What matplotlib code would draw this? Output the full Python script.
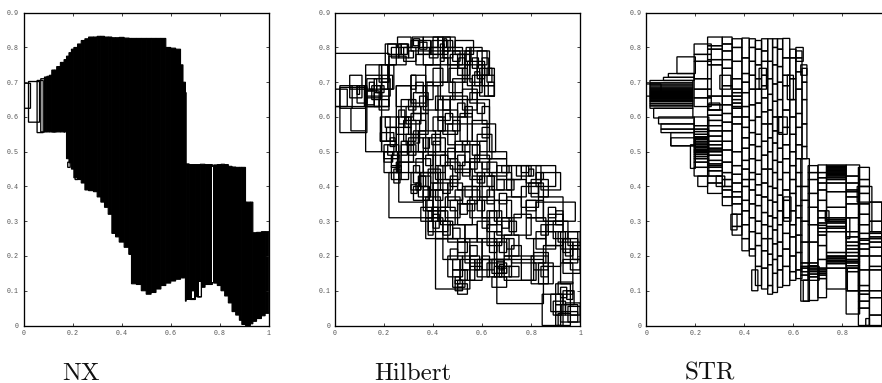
import matplotlib
matplotlib.use("Agg")
import matplotlib.pyplot as plt
from matplotlib.patches import Rectangle

W, H = 882, 383
captions = ["NX", "Hilbert", "STR"]
x_ticks = [0, 0.2, 0.4, 0.6, 0.8, 1]
x_tick_labels = ["0", "0.2", "0.4", "0.6", "0.8", "1"]
str_x_tick_labels = ["0", "0.2", "0.4", "0.6", "0.8", ""]
y_ticks = [0, 0.1, 0.2, 0.3, 0.4, 0.5, 0.6, 0.7, 0.8, 0.9]
y_tick_labels = ["0", "0.1", "0.2", "0.3", "0.4", "0.5", "0.6", "0.7", "0.8", "0.9"]

# NX: solid mass of very thin boxes, read as profile (left, right, low, high)
nx_edges = [0.085,0.095,0.105,0.115,0.125,0.135,0.15,0.165,0.175,0.185,0.195,0.205,0.22,0.235,0.25,0.265,0.285,0.30,
            0.315,0.33,0.345,0.36,0.375,0.39,0.41,0.43,0.44,0.46,0.48,0.50,0.52,0.54,0.56,0.58,0.60,0.62,0.64,
            0.65,0.66,0.663,0.675,0.70,0.72,0.74,0.77,0.775,0.79,0.805,0.82,0.835,0.85,0.865,0.88,0.89,0.905,
            0.91,0.925,0.935,0.95,0.97,0.985,1.0]
nx_low = [0.557,0.557,0.557,0.557,0.557,0.557,0.557,0.557,0.48,0.468,0.45,0.425,0.42,0.41,0.39,0.388,0.385,0.37,
          0.355,0.34,0.32,0.265,0.255,0.24,0.225,0.205,0.12,0.118,0.10,0.09,0.095,0.105,0.115,0.122,0.128,0.133,0.137,
          0.137,0.07,0.075,0.075,0.083,0.11,0.118,0.125,0.122,0.115,0.10,0.085,0.065,0.04,0.03,0.015,0.003,0.0,
          0.0,0.005,0.012,0.02,0.028,0.035]
nx_high = [0.715,0.717,0.72,0.735,0.735,0.745,0.757,0.765,0.775,0.785,0.795,0.80,0.81,0.82,0.825,0.83,0.83,0.832,
           0.832,0.83,0.83,0.828,0.828,0.829,0.827,0.826,0.826,0.826,0.826,0.826,0.826,0.826,0.826,0.80,0.798,0.795,0.75,
           0.70,0.67,0.465,0.463,0.463,0.464,0.463,0.456,0.462,0.463,0.464,0.463,0.458,0.456,0.455,0.455,0.455,0.355,
           0.355,0.355,0.267,0.268,0.27,0.27]
nx_boxes = [(0.0,0.625,0.028,0.697),(0.02,0.585,0.065,0.702),(0.055,0.555,0.08,0.705),(0.07,0.557,0.087,0.71),
            (0.118,0.557,0.13,0.73),(0.165,0.557,0.168,0.752),(0.18,0.455,0.19,0.47),(0.21,0.42,0.22,0.44),
            (0.28,0.39,0.295,0.41),(0.43,0.205,0.44,0.23),(0.68,0.075,0.70,0.10),(0.71,0.082,0.725,0.13)]
nx_white_gaps = [(0.7685,0.125,0.7725,0.456),(0.685,0.078,0.695,0.10),(0.715,0.085,0.722,0.125),(0.29,0.39,0.293,0.41),
                 (0.122,0.56,0.126,0.725),(0.1645,0.56,0.1665,0.75)]

# Hilbert: boxes (x0, y0, x1, y1), by region
hilbert_large = [(0,0.63,0.22,0.783),(0.02,0.555,0.13,0.685),(0.065,0.56,0.125,0.625),(0.125,0.5,0.19,0.75),
    (0.22,0.31,0.40,0.44),(0.26,0.355,0.36,0.50),(0.41,0.105,0.55,0.25),(0.66,0.063,0.85,0.19),
    (0.845,0,0.92,0.09),(0.69,0.13,0.81,0.20),(0.82,0.30,0.98,0.355),(0.62,0.48,0.70,0.50),
    (0.25,0.50,0.37,0.69),(0.36,0.75,0.55,0.79),(0.18,0.70,0.22,0.75),(0.64,0.11,0.70,0.14)]
hilbert_upper_left = [(0,0.63,0.05,0.68),(0.02,0.625,0.07,0.69),(0.06,0.655,0.11,0.72),(0.09,0.64,0.13,0.69),
    (0.06,0.68,0.12,0.69),(0.12,0.63,0.22,0.68),(0.125,0.655,0.19,0.72),(0.13,0.675,0.17,0.71),
    (0.16,0.66,0.225,0.71),(0.19,0.68,0.235,0.72),(0.13,0.63,0.18,0.675),(0.18,0.62,0.22,0.65),
    (0.15,0.65,0.185,0.69),(0.19,0.70,0.22,0.75),(0.215,0.68,0.24,0.75),(0.09,0.665,0.10,0.69),
    (0.185,0.53,0.24,0.555),(0.19,0.50,0.25,0.53),(0.20,0.48,0.26,0.52),(0.21,0.53,0.25,0.57),
    (0.20,0.44,0.255,0.50),(0.185,0.53,0.225,0.60),(0.205,0.57,0.26,0.60),(0.225,0.515,0.245,0.54),
    (0.13,0.635,0.16,0.66),(0.16,0.63,0.19,0.67),(0.17,0.67,0.20,0.69),(0.14,0.68,0.16,0.70),
    (0.20,0.47,0.235,0.50),(0.215,0.49,0.24,0.52),(0.23,0.455,0.265,0.49),(0.24,0.41,0.265,0.45),(0.25,0.44,0.27,0.47)]
hilbert_top = [(0.205,0.75,0.25,0.81),(0.215,0.78,0.27,0.81),(0.22,0.75,0.29,0.775),(0.255,0.80,0.31,0.83),
    (0.26,0.77,0.30,0.81),(0.28,0.76,0.33,0.80),(0.31,0.79,0.36,0.82),(0.315,0.80,0.36,0.83),(0.34,0.78,0.39,0.82),
    (0.36,0.80,0.42,0.83),(0.33,0.75,0.40,0.78),(0.40,0.78,0.44,0.83),(0.42,0.80,0.49,0.83),(0.44,0.77,0.48,0.82),
    (0.46,0.75,0.52,0.80),(0.49,0.78,0.565,0.82),(0.50,0.72,0.55,0.78),(0.47,0.70,0.53,0.78),(0.55,0.70,0.60,0.80),
    (0.53,0.75,0.62,0.79),(0.58,0.72,0.63,0.79),(0.54,0.69,0.61,0.76),(0.59,0.66,0.65,0.74),(0.60,0.69,0.65,0.72),
    (0.61,0.66,0.65,0.69),(0.56,0.67,0.60,0.72),(0.58,0.71,0.61,0.75),(0.395,0.78,0.46,0.82),(0.44,0.79,0.47,0.83),
    (0.37,0.70,0.43,0.75),(0.43,0.70,0.46,0.77),(0.40,0.69,0.44,0.74),
    (0.23,0.77,0.26,0.80),(0.27,0.78,0.295,0.81),(0.30,0.77,0.32,0.79),(0.32,0.805,0.345,0.825),(0.345,0.795,0.375,0.815),
    (0.385,0.77,0.42,0.80),(0.43,0.76,0.445,0.81),(0.445,0.80,0.455,0.825),(0.48,0.76,0.51,0.79),(0.505,0.74,0.53,0.77),
    (0.52,0.70,0.54,0.74),(0.535,0.76,0.555,0.80),(0.56,0.74,0.585,0.77),(0.57,0.69,0.59,0.73),(0.60,0.72,0.625,0.77),
    (0.62,0.70,0.64,0.74),(0.625,0.66,0.65,0.70)]
hilbert_mid_left = [(0.25,0.63,0.31,0.69),(0.27,0.60,0.32,0.65),(0.29,0.58,0.35,0.63),(0.31,0.64,0.37,0.72),
    (0.32,0.61,0.38,0.67),(0.36,0.62,0.42,0.69),(0.25,0.55,0.30,0.60),(0.26,0.50,0.31,0.57),(0.28,0.53,0.33,0.59),
    (0.30,0.47,0.36,0.54),(0.27,0.47,0.32,0.52),(0.31,0.55,0.38,0.61),(0.34,0.50,0.41,0.56),(0.36,0.44,0.41,0.50),
    (0.33,0.44,0.39,0.48),(0.26,0.42,0.30,0.47),(0.23,0.42,0.27,0.46),(0.31,0.39,0.35,0.44),(0.32,0.36,0.38,0.40),
    (0.34,0.37,0.39,0.43),(0.36,0.33,0.42,0.39),(0.37,0.31,0.43,0.37),(0.35,0.30,0.40,0.34),(0.38,0.39,0.43,0.45),
    (0.37,0.25,0.44,0.31),(0.38,0.27,0.46,0.33),(0.41,0.25,0.48,0.30),(0.43,0.29,0.49,0.34),(0.40,0.34,0.46,0.41),
    (0.42,0.39,0.48,0.46),(0.40,0.44,0.45,0.50),(0.38,0.49,0.45,0.54),
    (0.26,0.58,0.285,0.62),(0.285,0.57,0.31,0.60),(0.29,0.52,0.32,0.55),(0.27,0.49,0.295,0.53),(0.30,0.49,0.33,0.52),
    (0.32,0.525,0.345,0.56),(0.345,0.56,0.37,0.59),(0.32,0.59,0.35,0.63),(0.345,0.63,0.375,0.66),(0.375,0.65,0.40,0.70),
    (0.33,0.67,0.36,0.70),(0.31,0.68,0.33,0.72),(0.30,0.62,0.33,0.65),(0.32,0.41,0.345,0.46),(0.345,0.40,0.37,0.43),
    (0.31,0.38,0.335,0.405),(0.33,0.39,0.35,0.41),(0.36,0.36,0.385,0.40),(0.375,0.33,0.40,0.36),(0.395,0.30,0.42,0.34),
    (0.38,0.26,0.40,0.30),(0.40,0.28,0.425,0.32),(0.42,0.30,0.45,0.33),(0.44,0.26,0.47,0.30),(0.41,0.36,0.44,0.39),
    (0.39,0.41,0.42,0.44),(0.41,0.42,0.44,0.46),(0.37,0.46,0.40,0.49),(0.40,0.50,0.43,0.53),(0.36,0.51,0.385,0.54)]
hilbert_center = [(0.43,0.50,0.49,0.56),(0.44,0.55,0.50,0.62),(0.46,0.52,0.54,0.58),(0.47,0.60,0.54,0.66),
    (0.42,0.59,0.47,0.65),(0.48,0.65,0.56,0.71),(0.43,0.65,0.49,0.70),(0.52,0.62,0.58,0.68),(0.54,0.58,0.63,0.65),
    (0.51,0.53,0.56,0.61),(0.56,0.53,0.62,0.59),(0.58,0.48,0.64,0.55),(0.53,0.47,0.59,0.52),(0.49,0.44,0.55,0.50),
    (0.45,0.42,0.51,0.47),(0.50,0.39,0.56,0.45),(0.55,0.42,0.60,0.47),(0.57,0.44,0.63,0.49),(0.46,0.36,0.52,0.41),
    (0.52,0.35,0.58,0.40),(0.45,0.31,0.51,0.37),(0.50,0.29,0.56,0.35),(0.55,0.31,0.60,0.37),(0.59,0.37,0.65,0.43),
    (0.60,0.31,0.67,0.36),(0.63,0.43,0.70,0.48),(0.64,0.39,0.72,0.44),(0.63,0.50,0.655,0.58),
    (0.60,0.58,0.63,0.63),(0.465,0.67,0.52,0.74),(0.40,0.56,0.44,0.60),(0.395,0.52,0.43,0.55),(0.56,0.40,0.60,0.43),
    (0.44,0.62,0.47,0.66),(0.41,0.62,0.44,0.66),(0.42,0.56,0.45,0.60),(0.45,0.58,0.48,0.61),(0.48,0.56,0.51,0.59),
    (0.50,0.60,0.53,0.64),(0.53,0.60,0.56,0.63),(0.55,0.64,0.58,0.67),(0.58,0.61,0.61,0.64),(0.60,0.54,0.63,0.57),
    (0.59,0.50,0.62,0.53),(0.56,0.49,0.59,0.52),(0.52,0.50,0.55,0.53),(0.49,0.50,0.52,0.53),(0.46,0.48,0.49,0.51),
    (0.43,0.46,0.46,0.49),(0.47,0.45,0.50,0.48),(0.50,0.46,0.53,0.49),(0.52,0.43,0.55,0.47),(0.55,0.45,0.58,0.48),
    (0.58,0.41,0.61,0.44),(0.60,0.45,0.63,0.47),(0.47,0.40,0.50,0.43),(0.44,0.38,0.47,0.42),(0.49,0.36,0.52,0.39),
    (0.53,0.37,0.56,0.40),(0.56,0.36,0.59,0.39),(0.47,0.33,0.50,0.36),(0.51,0.32,0.54,0.35),(0.54,0.33,0.57,0.36),
    (0.58,0.33,0.61,0.36),(0.60,0.37,0.63,0.40),(0.62,0.40,0.65,0.43)]
hilbert_right = [(0.66,0.42,0.72,0.46),(0.70,0.42,0.76,0.46),(0.74,0.43,0.80,0.46),(0.78,0.41,0.84,0.46),
    (0.82,0.40,0.90,0.46),(0.84,0.39,0.92,0.44),(0.72,0.37,0.78,0.42),(0.76,0.34,0.83,0.40),(0.80,0.37,0.87,0.42),
    (0.70,0.31,0.76,0.37),(0.65,0.30,0.72,0.36),(0.78,0.31,0.85,0.36),(0.85,0.30,0.93,0.37),(0.87,0.27,0.93,0.32),
    (0.89,0.25,0.95,0.30),(0.92,0.22,0.99,0.27),(0.95,0.23,1.0,0.27),(0.93,0.18,0.99,0.25),(0.96,0.16,1.0,0.22),
    (0.82,0.22,0.90,0.27),(0.86,0.23,0.93,0.29),(0.73,0.26,0.80,0.32),(0.78,0.25,0.86,0.31),(0.66,0.26,0.72,0.31),
    (0.62,0.27,0.68,0.33),(0.92,0.12,0.97,0.18),(0.93,0.15,1.0,0.19),(0.85,0.17,0.92,0.23),(0.81,0.16,0.87,0.21),
    (0.83,0.12,0.89,0.18),
    (0.62,0.44,0.66,0.47),(0.68,0.44,0.71,0.46),(0.76,0.44,0.79,0.46),(0.79,0.43,0.81,0.45),(0.82,0.42,0.85,0.44),
    (0.70,0.39,0.73,0.42),(0.66,0.39,0.69,0.42),(0.67,0.35,0.70,0.38),(0.62,0.35,0.65,0.39),(0.78,0.33,0.82,0.36),
    (0.79,0.38,0.83,0.41),(0.83,0.37,0.85,0.41),(0.87,0.31,0.90,0.34),(0.90,0.29,0.93,0.33),(0.84,0.26,0.87,0.29),
    (0.91,0.24,0.94,0.27),(0.94,0.20,0.97,0.24),(0.97,0.19,1.0,0.24),(0.93,0.21,0.96,0.25),(0.68,0.28,0.71,0.31),
    (0.71,0.27,0.74,0.30),(0.63,0.29,0.66,0.33),(0.60,0.28,0.63,0.31)]
hilbert_lower = [(0.44,0.19,0.50,0.25),(0.46,0.14,0.52,0.20),(0.48,0.11,0.53,0.16),(0.50,0.09,0.54,0.12),
    (0.49,0.10,0.52,0.13),(0.51,0.13,0.57,0.19),(0.53,0.18,0.60,0.25),(0.55,0.13,0.60,0.17),(0.58,0.14,0.63,0.19),
    (0.60,0.19,0.66,0.25),(0.62,0.14,0.66,0.18),(0.64,0.15,0.69,0.19),(0.65,0.14,0.68,0.17),(0.66,0.15,0.70,0.18),
    (0.67,0.14,0.72,0.17),(0.65,0.19,0.71,0.25),(0.69,0.20,0.75,0.26),(0.72,0.18,0.76,0.23),(0.62,0.23,0.68,0.29),
    (0.58,0.24,0.63,0.30),(0.46,0.24,0.53,0.29),(0.53,0.24,0.58,0.29),(0.76,0.13,0.82,0.18),(0.80,0.12,0.87,0.20),
    (0.71,0.14,0.75,0.17),(0.81,0.18,0.86,0.25),(0.55,0.16,0.59,0.20),(0.66,0.165,0.69,0.185),
    (0.47,0.19,0.50,0.22),(0.48,0.16,0.51,0.19),(0.50,0.21,0.54,0.24),(0.52,0.16,0.55,0.20),(0.55,0.20,0.58,0.23),
    (0.57,0.16,0.60,0.19),(0.60,0.16,0.63,0.20),(0.63,0.16,0.65,0.19),(0.67,0.16,0.69,0.175),(0.68,0.15,0.70,0.165),
    (0.69,0.17,0.72,0.19),(0.63,0.21,0.66,0.24),(0.67,0.21,0.70,0.24),(0.70,0.22,0.73,0.25),(0.65,0.24,0.68,0.27),
    (0.48,0.25,0.51,0.28),(0.51,0.13,0.54,0.16),(0.50,0.11,0.52,0.13),(0.49,0.12,0.51,0.14),(0.84,0.14,0.87,0.17)]
hilbert_corner = [(0.90,0.06,0.96,0.12),(0.91,0.09,0.97,0.125),(0.88,0.04,0.93,0.09),(0.89,0.03,0.94,0.07),
    (0.94,0.03,1.0,0.065),(0.92,0.01,0.99,0.04),(0.91,0,0.96,0.035),(0.93,0.06,0.975,0.10),(0.90,0,0.93,0.04),
    (0.96,0.03,0.99,0.06),(0.95,0.01,1.0,0.055),(0.92,0.08,0.945,0.11),(0.945,0.075,0.97,0.10),(0.90,0.03,0.925,0.06)]

# STR: vertical slices (x0, x1, y breaks between stacked boxes)
str_slices = [
    (0.0,0.06,[0.66,0.695]),
    (0.015,0.19,[0.625,0.632,0.638,0.644,0.648,0.652,0.655,0.658,0.661,0.664,0.667,0.67,0.673,0.677,0.681,0.686,0.692,0.698,0.705]),
    (0.03,0.19,[0.597,0.625]),(0.05,0.195,[0.58,0.60]),(0.06,0.195,[0.555,0.565,0.58]),(0.10,0.195,[0.517,0.555]),
    (0.07,0.195,[0.705,0.714]),(0.09,0.195,[0.714,0.725]),(0.125,0.20,[0.725,0.773]),
    (0.18,0.20,[0.452,0.52]),
    (0.195,0.255,[0.43,0.455,0.47,0.48,0.486,0.492,0.497,0.50,0.504,0.507,0.512,0.515,0.52,0.525,0.53,0.536,0.54,0.543,0.55,0.558,0.565,0.575,0.60]),
    (0.195,0.265,[0.63,0.655,0.68,0.71,0.76,0.78,0.81]),(0.21,0.25,[0.40,0.43]),
    (0.25,0.31,[0.38,0.41,0.43,0.445,0.455,0.46,0.465,0.475,0.49,0.50,0.505,0.51,0.52,0.53,0.545,0.56,0.575,0.59,0.605,0.62,0.635,0.66,0.75,0.765,0.795,0.805,0.83]),
    (0.31,0.35,[0.345,0.37,0.39,0.40,0.42,0.44,0.47,0.505,0.53,0.56,0.585,0.61,0.635,0.66,0.69,0.74,0.765,0.79,0.81,0.83]),
    (0.35,0.39,[0.26,0.285,0.32,0.35,0.37,0.385,0.41,0.435,0.46,0.50,0.58,0.60,0.625,0.63,0.64,0.65,0.66,0.67,0.68,0.71,0.76,0.80,0.825]),
    (0.39,0.42,[0.215,0.25,0.29,0.33,0.36,0.40,0.42,0.45,0.475,0.51,0.54,0.57,0.60,0.63,0.67,0.70,0.725,0.77,0.827]),
    (0.42,0.445,[0.20,0.22,0.27,0.31,0.35,0.39,0.42,0.44,0.48,0.52,0.555,0.59,0.635,0.68,0.72,0.76,0.80,0.825]),
    (0.445,0.47,[0.115,0.17,0.23,0.265,0.30,0.345,0.375,0.405,0.435,0.475,0.515,0.55,0.60,0.64,0.68,0.71,0.75,0.795,0.82]),
    (0.47,0.495,[0.105,0.165,0.215,0.25,0.29,0.325,0.37,0.41,0.45,0.49,0.53,0.58,0.615,0.655,0.69,0.72,0.76,0.79,0.825]),
    (0.495,0.515,[0.09,0.115,0.175,0.205,0.25,0.285,0.315,0.36,0.40,0.45,0.50,0.54,0.58,0.62,0.665,0.71,0.76,0.825]),
    (0.515,0.535,[0.095,0.15,0.19,0.235,0.275,0.31,0.355,0.395,0.44,0.475,0.525,0.56,0.60,0.645,0.695,0.75,0.80,0.825]),
    (0.535,0.556,[0.11,0.16,0.20,0.24,0.29,0.33,0.375,0.42,0.47,0.51,0.555,0.60,0.65,0.70,0.745,0.795,0.825]),
    (0.556,0.585,[0.115,0.17,0.22,0.265,0.31,0.36,0.39,0.44,0.48,0.52,0.57,0.62,0.69,0.72,0.77,0.826]),
    (0.585,0.61,[0.13,0.155,0.20,0.255,0.29,0.33,0.38,0.42,0.46,0.50,0.55,0.60,0.65,0.71,0.77,0.795]),
    (0.61,0.635,[0.135,0.16,0.21,0.26,0.31,0.345,0.40,0.44,0.48,0.52,0.57,0.61,0.68,0.73,0.77,0.79]),
    (0.635,0.655,[0.48,0.515,0.58,0.65,0.70,0.74]),
    (0.63,0.665,[0.07,0.13,0.145,0.155,0.165,0.17,0.18,0.24,0.30,0.36,0.40,0.48]),
    (0.66,0.70,[0.072,0.14,0.148,0.155,0.16,0.165,0.172,0.18,0.24,0.29,0.34,0.38,0.42,0.44,0.46]),
    (0.70,0.735,[0.08,0.135,0.145,0.15,0.155,0.16,0.165,0.19,0.23,0.26,0.27,0.28,0.288,0.295,0.31,0.33,0.36,0.39,0.41,0.425,0.44,0.462]),
    (0.735,0.815,[0.105,0.165,0.178,0.183,0.187,0.192,0.197,0.20,0.21,0.27,0.28,0.285,0.295,0.30,0.305,0.31,0.34,0.385,0.41,0.42,0.425,0.43,0.434,0.438,0.442,0.446,0.45,0.454,0.458,0.462]),
    (0.815,0.87,[0.033,0.10,0.155,0.165,0.172,0.18,0.185,0.19,0.20,0.21,0.22,0.23,0.24,0.255,0.27,0.31,0.35,0.37,0.385,0.39,0.41,0.43,0.462]),
    (0.865,0.91,[0.0,0.05,0.07,0.09,0.10,0.115,0.16,0.20,0.22,0.235,0.245,0.25,0.265,0.29,0.32,0.35,0.38,0.40,0.42,0.455]),
    (0.895,0.91,[0.0,0.02]),
    (0.91,0.96,[0.0,0.03,0.08,0.10,0.16,0.17,0.20,0.225,0.24,0.25,0.255,0.265,0.27,0.30,0.355]),
    (0.96,1.0,[0.0,0.03,0.04,0.05,0.06,0.07,0.08,0.09,0.10,0.11,0.13,0.16,0.18,0.19,0.195,0.20,0.21,0.22,0.23,0.24,0.25,0.26,0.282]),
]
str_loose_boxes = [(0.10,0.517,0.2,0.54),(0.255,0.62,0.30,0.64),(0.30,0.68,0.345,0.72),(0.285,0.40,0.32,0.43),
    (0.345,0.275,0.37,0.32),(0.66,0.13,0.705,0.17),(0.73,0.30,0.745,0.33),(0.815,0.25,0.83,0.31),(0.86,0.355,0.92,0.40),
    (0.92,0.27,0.965,0.355),(0.575,0.65,0.60,0.72),(0.61,0.76,0.64,0.80),(0.63,0.72,0.655,0.75),(0.56,0.30,0.59,0.37),
    (0.46,0.68,0.49,0.74),(0.54,0.55,0.575,0.60),(0.43,0.10,0.455,0.16),(0.64,0.07,0.665,0.13),(0.82,0.10,0.865,0.165)]

fig = plt.figure(figsize=(W / 100, H / 100), dpi=100)
fig.patch.set_facecolor("white")


def make_axes(left_px, xlabels):
    ax = fig.add_axes([left_px / W, 1 - 325.5 / H, 245.2 / W, 312.8 / H])
    ax.set_xlim(0, 1)
    ax.set_ylim(0, 0.9)
    ax.set_xticks(x_ticks, xlabels)
    ax.set_yticks(y_ticks, y_tick_labels)
    ax.tick_params(direction="in", top=True, right=True, length=2, width=0.6, pad=3.5,
                   labelsize=4.8, labelcolor="#555555", color="#222222")
    for lab in ax.get_xticklabels() + ax.get_yticklabels():
        lab.set_family("Liberation Mono")
    for s in ax.spines.values():
        s.set_linewidth(0.95)
        s.set_color("black")
    return ax


def draw_box(ax, box, lw=0.95, **kw):
    x0, y0, x1, y1 = box
    style = dict(fill=False, edgecolor="black", linewidth=lw, snap=False)
    style.update(kw)
    ax.add_patch(Rectangle((x0, y0), x1 - x0, y1 - y0, **style))


ax_nx = make_axes(23.6, x_tick_labels)
for i in range(len(nx_low)):
    draw_box(ax_nx, (nx_edges[i], nx_low[i], nx_edges[i + 1], nx_high[i]),
             lw=0.8, fill=True, facecolor="black")
for b in nx_white_gaps:
    ax_nx.add_patch(Rectangle((b[0], b[1]), b[2] - b[0], b[3] - b[1], facecolor="white", edgecolor="none"))
for b in nx_boxes:
    draw_box(ax_nx, b)

ax_h = make_axes(335.0, x_tick_labels)
for group in (hilbert_large, hilbert_upper_left, hilbert_top, hilbert_mid_left,
              hilbert_center, hilbert_right, hilbert_lower, hilbert_corner):
    for b in group:
        draw_box(ax_h, b)

ax_s = make_axes(646.3, str_x_tick_labels)
for x0, x1, ys in str_slices:
    for y0, y1 in zip(ys[:-1], ys[1:]):
        draw_box(ax_s, (x0, y0, x1, y1))
for b in str_loose_boxes:
    draw_box(ax_s, b)

for text, cx in zip(captions, (81, 413, 710)):
    fig.text(cx / W, 1 - 379.5 / H, text, family="cmr10", fontsize=18, ha="center", va="baseline", color="#111111")

fig.savefig("out.png", dpi=100)
